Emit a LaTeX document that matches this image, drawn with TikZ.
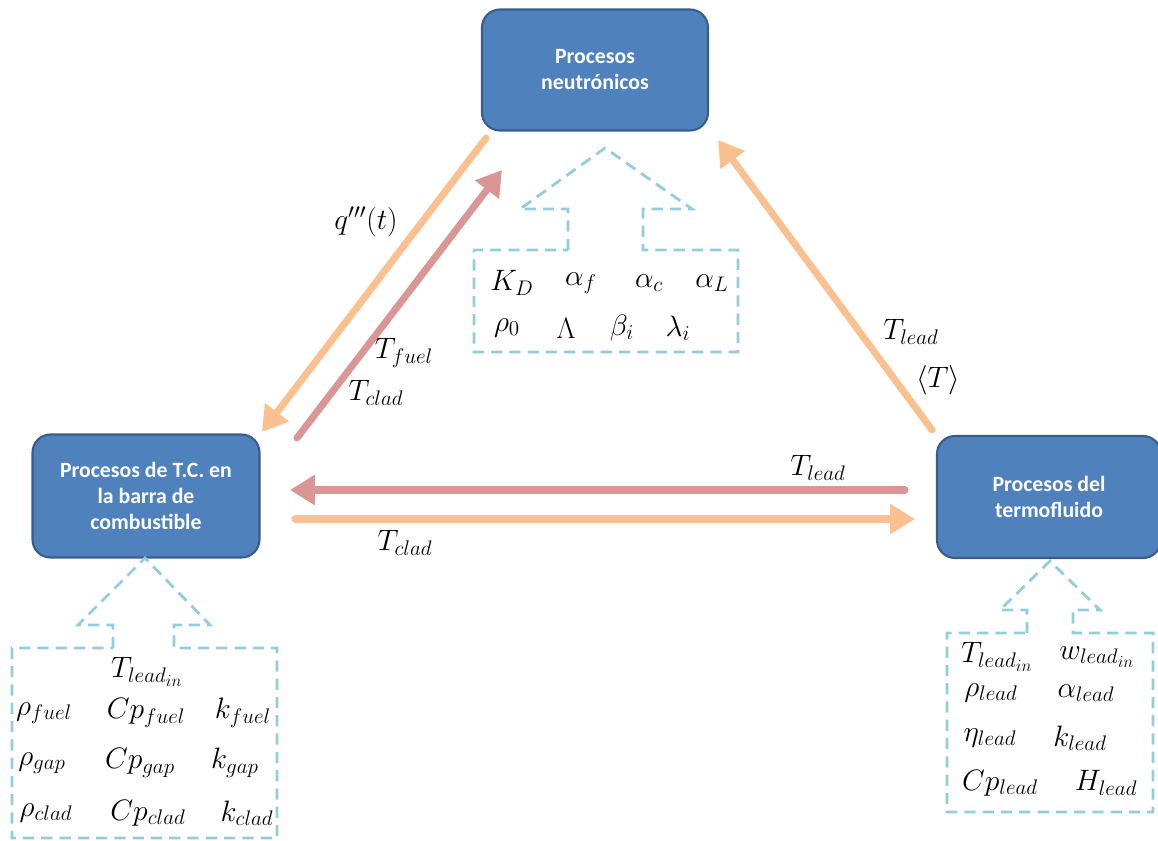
\RequirePackage{fix-cm}
\documentclass[tikz,border=0pt]{standalone}
\usepackage{fontspec}
\newfontfamily\cajafont{Carlito}
\usepackage{xcolor}
\usetikzlibrary{
	positioning,   % posicion relativa de nodos
	arrows.meta    % puntas de flecha (Triangle)
}
\DeclareMathSizes{21}{21}{15}{12}
\definecolor{azulcaja}{HTML}{4F81BD}
\definecolor{bordecaja}{HTML}{385D8A}
\definecolor{naranja}{HTML}{FAC090}
\definecolor{rojizo}{HTML}{D99694}
\definecolor{celeste}{HTML}{93CDDD}

\begin{document}
\begin{tikzpicture}[x=0.025cm, y=-0.025cm,
		caja/.style={draw=bordecaja, fill=azulcaja, line width=1.5pt,
			rounded corners=0.45cm, text=white, align=center, inner sep=0pt,
			font=\cajafont\bfseries\fontsize{15.5}{18.5}\selectfont},
		flecha/.style={line width=5pt, line cap=round,
			-{Triangle[length=0.62cm, width=0.72cm]}},
		llamada/.style={draw=celeste, line width=2pt, dash pattern=on 8pt off 5pt},
		var/.style={inner sep=0pt, font=\fontsize{21}{24}\selectfont}]
	% Marco de la figura (pixeles)
	\useasboundingbox (0,0) rectangle (1158,841);
	
	% --- Cajas de procesos ---
	\node[caja, minimum width=226*0.025cm, minimum height=121*0.025cm] (neu) at (595,70)
		{Procesos\\neutrónicos};
	\node[caja, minimum width=227*0.025cm, minimum height=123*0.025cm] (tc) at (146,496)
		{Procesos de T.C. en\\la barra de\\combustible};
	\node[caja, minimum width=224*0.025cm, minimum height=122*0.025cm] (flu) at (1049,497)
		{Procesos del\\termofluido};
	
	% --- Extremos de las flechas ---
	\coordinate (qini) at (486,138);  \coordinate (qfin) at (262,432);
	\coordinate (tfini) at (297,438); \coordinate (tffin) at (502,170);
	\coordinate (tlini) at (932,430); \coordinate (tlfin) at (718,140);
	\coordinate (hrini) at (905,490); \coordinate (hrfin) at (290,490);
	\coordinate (hnini) at (295,519); \coordinate (hnfin) at (915,519);
	
	% --- Flechas entre procesos ---
	\draw[flecha, naranja] (qini) -- (qfin);
	\draw[flecha, rojizo] (tfini) -- (tffin);
	\draw[flecha, naranja] (tlini) -- (tlfin);
	\draw[flecha, rojizo] (hrini) -- (hrfin);
	\draw[flecha, naranja] (hnini) -- (hnfin);
	
	% --- Etiquetas de las flechas ---
	\node[var] (lq) at (366,222) {$q'''(t)$};
	\node[var] (lfuel) at (404,353) {$T_{fuel}$};
	\node[var] (lclad) at (376,393) {$T_{clad}$};
	\node[var] (llead) at (911,332) {$T_{lead}$};
	\node[var] (lmed) at (938,380) {$\langle T\rangle$};
	\node[var] (lhlead) at (818,468) {$T_{lead}$};
	\node[var] (lhclad) at (405,543) {$T_{clad}$};
	
	% --- Llamadas de parametros ---
	% neutronica
	\draw[llamada] (568,250) -- (568,209) -- (520,209) -- (605,148) -- (692,209)
		-- (643,209) -- (643,250) -- (738,250) -- (738,352) -- (474,352) -- (474,250) -- cycle;
	% barra de combustible
	\draw[llamada] (113,648) -- (113,625) -- (78,625) -- (145,558) -- (210,625)
		-- (174,625) -- (174,648) -- (277,648) -- (277,838) -- (12,838) -- (12,648) -- cycle;
	% termofluido
	\draw[llamada] (1027,633) -- (1027,610) -- (1000,610) -- (1050,561) -- (1100,610)
		-- (1073,610) -- (1073,633) -- (1153,633) -- (1153,812) -- (947,812) -- (947,633) -- cycle;
	
	% --- Parametros neutronicos ---
	\node[var] (kd) at (512,283) {$K_D$};
	\node[var] (af) at (581,283) {$\alpha_f$};
	\node[var] (ac) at (649,283) {$\alpha_c$};
	\node[var] (al) at (712,283) {$\alpha_L$};
	\node[var] (r0) at (507,328) {$\rho_0$};
	\node[var] (lam) at (566,328) {$\Lambda$};
	\node[var] (bi) at (622,328) {$\beta_i$};
	\node[var] (li) at (678,328) {$\lambda_i$};
	
	% --- Parametros de la barra ---
	\node[var] (tin) at (147,672) {$T_{lead_{in}}$};
	\node[var] (rf) at (44,713) {$\rho_{fuel}$};
	\node[var] (cf) at (146,713) {$Cp_{fuel}$};
	\node[var] (kf) at (243,713) {$k_{fuel}$};
	\node[var] (rg) at (42,763) {$\rho_{gap}$};
	\node[var] (cg) at (140,763) {$Cp_{gap}$};
	\node[var] (kg) at (235,763) {$k_{gap}$};
	\node[var] (rc) at (46,813) {$\rho_{clad}$};
	\node[var] (cc) at (148,813) {$Cp_{clad}$};
	\node[var] (kc) at (247,813) {$k_{clad}$};
	
	% --- Parametros del termofluido ---
	\node[var] (ftin) at (997,657) {$T_{lead_{in}}$};
	\node[var] (fwin) at (1097,657) {$w_{lead_{in}}$};
	\node[var] (frho) at (991,693) {$\rho_{lead}$};
	\node[var] (falp) at (1086,693) {$\alpha_{lead}$};
	\node[var] (feta) at (990,738) {$\eta_{lead}$};
	\node[var] (fk) at (1080,738) {$k_{lead}$};
	\node[var] (fcp) at (1000,783) {$Cp_{lead}$};
	\node[var] (fh) at (1106,783) {$H_{lead}$};
\end{tikzpicture}
\end{document}
